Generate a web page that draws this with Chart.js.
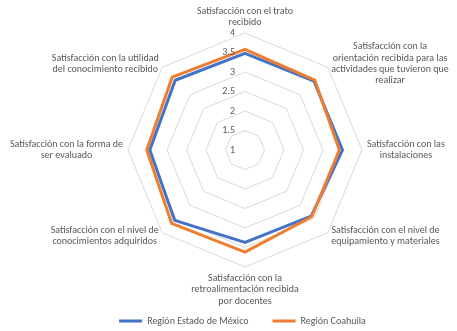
<!DOCTYPE html>
<html lang="es">
<head>
    <meta charset="UTF-8">
    <title>Satisfacción por región</title>
    <script src="https://cdn.jsdelivr.net/npm/chart.js"></script>
    <style>
        body {
            margin: 0;
            background: #fff;
        }
    </style>
</head>
<body>
    <canvas id="radarChart" width="457" height="331"></canvas>

    <script>
        // axis labels, one array of lines per axis
        const categories = [
            ['Satisfacción con el trato', 'recibido'],
            ['Satisfacción con la', 'orientación recibida para las', 'actividades que tuvieron que', 'realizar'],
            ['Satisfacción con las', 'instalaciones'],
            ['Satisfacción con el nivel de', 'equipamiento y materiales'],
            ['Satisfacción con la', 'retroalimentación recibida', 'por docentes'],
            ['Satisfacción con el nivel de', 'conocimientos adquiridos'],
            ['Satisfacción con la forma de', 'ser evaluado'],
            ['Satisfacción con la utilidad', 'del conocimiento recibido']
        ];
        const seriesNames = ['Región Estado de México', 'Región Coahuila'];
        const estadoMexico = [3.48, 3.50, 3.50, 3.40, 3.37, 3.55, 3.44, 3.53];
        const coahuila = [3.58, 3.53, 3.42, 3.42, 3.62, 3.66, 3.52, 3.64];
        const tickValues = [1, 1.5, 2, 2.5, 3, 3.5, 4];

        const FONT = '10px Carlito, Calibri, sans-serif';
        const TEXT_COLOR = '#595959';
        const LINE_H = 11.3;

        // Excel-like axis labels and tick labels
        const axisText = {
            id: 'axisText',
            afterDraw(chart) {
                const scale = chart.scales.r;
                const ctx = chart.ctx;
                ctx.save();
                ctx.font = FONT;
                ctx.fillStyle = TEXT_COLOR;
                ctx.textBaseline = 'middle';

                // tick labels, left of the vertical axis
                ctx.textAlign = 'right';
                tickValues.forEach(v => {
                    const y = scale.yCenter - scale.getDistanceFromCenterForValue(v);
                    ctx.fillText(String(v), scale.xCenter - 10, y);
                });

                // point labels
                ctx.textAlign = 'center';
                categories.forEach((lines, i) => {
                    const p = scale.getPointPosition(i, scale.drawingArea + 5);
                    const a = scale.getIndexAngle(i);
                    const sx = Math.sin(a), cy = Math.cos(a);
                    const blockW = Math.max(...lines.map(l => ctx.measureText(l).width));
                    const n = lines.length;
                    let cx = p.x, firstY;
                    if (Math.abs(sx) < 0.1) {
                        firstY = cy > 0 ? p.y - (n - 0.5) * LINE_H : p.y + LINE_H / 2 + 1;
                    } else {
                        cx = sx > 0 ? p.x + blockW / 2 : p.x - blockW / 2;
                        firstY = p.y - (n - 1) / 2 * LINE_H;
                    }
                    lines.forEach((l, k) => ctx.fillText(l, cx, firstY + k * LINE_H));
                });
                ctx.restore();
            }
        };

        const ctx = document.getElementById('radarChart').getContext('2d');
        new Chart(ctx, {
            type: 'radar',
            data: {
                labels: categories,
                datasets: [{
                    label: seriesNames[0],
                    data: estadoMexico,
                    borderColor: '#4472C4',
                    backgroundColor: '#4472C4',
                    borderWidth: 3,
                    pointRadius: 0,
                    fill: false,
                    order: 2
                }, {
                    label: seriesNames[1],
                    data: coahuila,
                    borderColor: '#ED7D31',
                    backgroundColor: '#ED7D31',
                    borderWidth: 3,
                    pointRadius: 0,
                    fill: false,
                    order: 1
                }]
            },
            options: {
                responsive: false,
                animation: false,
                layout: { padding: { left: 28, bottom: -5 } },
                scales: {
                    r: {
                        min: 1,
                        max: 4,
                        ticks: { display: false, stepSize: 0.5 },
                        pointLabels: { display: false },
                        angleLines: { display: false },
                        grid: { color: '#D9D9D9', lineWidth: 1 },
                        afterFit(scale) {
                            scale.xCenter = 245;
                            scale.yCenter = 150;
                            scale.drawingArea = 117;
                        }
                    }
                },
                plugins: {
                    legend: {
                        position: 'bottom',
                        labels: {
                            usePointStyle: true,
                            pointStyle: 'line',
                            pointStyleWidth: 23,
                            padding: 24,
                            color: TEXT_COLOR,
                            font: { family: 'Carlito, Calibri, sans-serif', size: 10 },
                            sort: (a, b) => a.datasetIndex - b.datasetIndex
                        }
                    },
                    tooltip: { enabled: false }
                }
            },
            plugins: [axisText]
        });
    </script>
</body>
</html>
